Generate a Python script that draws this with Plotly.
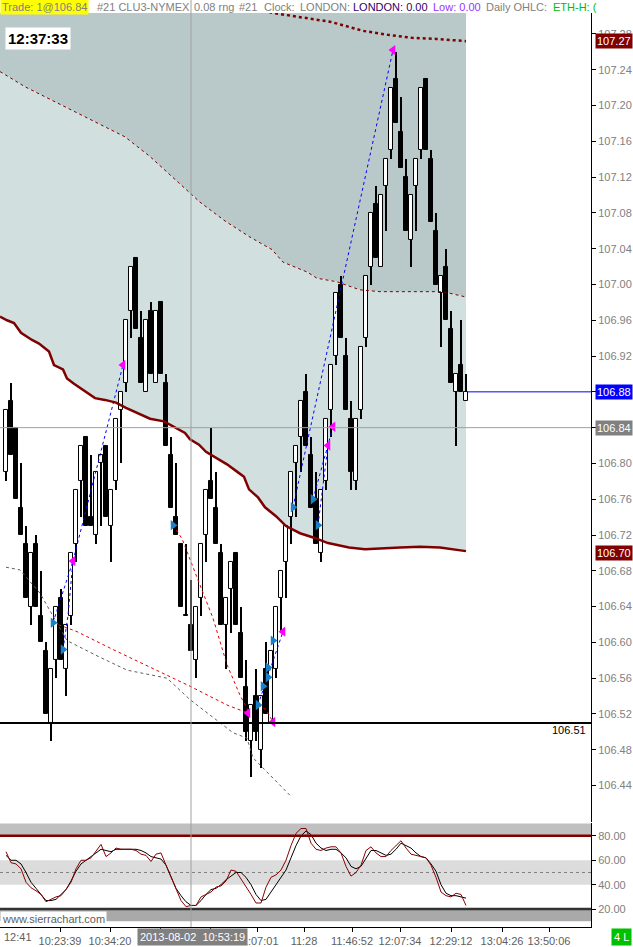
import plotly.graph_objects as go

# ---------------- data ----------------
opens = [106.79,106.87,106.84,106.75,106.71,106.64,106.71,106.63,106.59,106.51,
         106.58,106.65,106.57,106.63,106.71,106.78,106.83,106.74,106.72,106.80,
         106.82,106.73,106.78,106.86,106.89,106.97,107.03,106.94,106.88,106.97,
         106.89,106.98,106.89,106.81,106.74,106.71,106.63,106.62,106.58,106.65,
         106.72,106.78,106.75,106.70,106.62,106.66,106.70,106.61,106.55,106.49,
         106.54,106.48,106.57,106.51,106.57,106.65,106.69,106.74,106.80,106.83,
         106.88,106.81,106.76,106.70,106.78,106.86,106.92,107.00,106.92,106.85,
         106.78,106.86,106.94,107.02,107.09,107.02,107.11,107.15,107.23,107.17,
         107.12,107.05,107.11,107.15,107.23,107.14,107.06,106.99,107.02,106.95,
         106.88,106.91,106.87]
highs = [106.86,106.89,106.84,106.80,106.73,106.70,106.72,106.68,106.60,106.57,
         106.64,106.66,106.62,106.70,106.77,106.82,106.83,106.81,106.79,106.81,
         106.82,106.77,106.85,106.88,106.96,107.02,107.03,106.97,106.96,106.98,
         106.97,106.98,106.90,106.83,106.80,106.71,106.71,106.67,106.64,106.71,
         106.77,106.84,106.79,106.71,106.65,106.69,106.70,106.64,106.58,106.53,
         106.57,106.54,106.60,106.59,106.64,106.68,106.73,106.79,106.82,106.87,
         106.90,106.83,106.79,106.77,106.85,106.91,106.99,107.01,106.94,106.87,
         106.85,106.93,107.01,107.08,107.11,107.10,107.14,107.22,107.26,107.21,
         107.14,107.10,107.14,107.22,107.23,107.15,107.08,107.01,107.04,106.97,
         106.90,106.96,106.90]
lows = [106.78,106.81,106.76,106.72,106.65,106.62,106.64,106.60,106.52,106.49,
        106.56,106.58,106.54,106.62,106.69,106.74,106.73,106.73,106.71,106.73,
        106.74,106.69,106.77,106.80,106.88,106.94,106.95,106.89,106.88,106.90,
        106.89,106.90,106.82,106.75,106.72,106.64,106.63,106.59,106.56,106.63,
        106.69,106.76,106.71,106.62,106.57,106.61,106.62,106.56,106.49,106.45,
        106.49,106.46,106.52,106.51,106.56,106.61,106.65,106.71,106.74,106.79,
        106.82,106.75,106.71,106.69,106.77,106.83,106.91,106.94,106.86,106.77,
        106.77,106.85,106.93,107.00,107.03,107.02,107.06,107.14,107.18,107.13,
        107.06,107.02,107.06,107.14,107.15,107.07,107.00,106.93,106.96,106.89,
        106.82,106.88,106.87]
closes = [106.86,106.81,106.76,106.72,106.65,106.70,106.64,106.60,106.52,106.57,
          106.64,106.58,106.62,106.70,106.77,106.82,106.73,106.73,106.79,106.81,
          106.74,106.77,106.85,106.88,106.96,107.02,106.95,106.89,106.96,106.90,
          106.97,106.90,106.82,106.75,106.72,106.64,106.63,106.59,106.64,106.71,
          106.77,106.76,106.71,106.62,106.65,106.69,106.62,106.56,106.50,106.53,
          106.50,106.54,106.52,106.59,106.64,106.68,106.73,106.79,106.82,106.87,
          106.82,106.75,106.71,106.77,106.85,106.91,106.99,106.94,106.86,106.79,
          106.85,106.93,107.01,107.08,107.03,107.10,107.14,107.22,107.18,107.13,
          107.06,107.10,107.14,107.22,107.15,107.07,107.00,107.01,106.96,106.89,
          106.90,106.88,106.88]

# stochastic %K (dark red) and %D (black)
stoch_k = [67,58,57,53,42,37.5,35,32,26,28,30,31,36,42,53,60,60,62,68,73,
           63,66,70,69,69,69,68,65,64,59,65,66,56,46,37,27,22,23,23,30,
           32,34,38,39,43,52,51,45,38,32,25,25,38,46,48,52,60,72,82,86,
           86,74,69,68,70,71,71,66,55,47,50,56,68,71,66,63,63,68,72,76,
           70,65,64,63,62,56,46,34,31,30,33,32,23]
stoch_d = [64,60,60,57,50,42,37,32,27,27,28,32,36,43,51,57,60,63,66,69,
           68,67,69,69,69,69,69,68,66,63,62,61,56,46,37,31,26,23,23,27,
           32,36,37,40,44,47,50,50,46,40,32,27,28,34,40,45,52,62,72,80,
           84,81,74,70,68,69,69,66,62,55,53,55,62,68,68,66,64,65,69,74,
           72,70,66,63,62,57,51,40,33,31,31,30,29]

# band lines (bar position, price)
band_top_x = [46.8, 53.4, 65.0, 71.4, 76.4, 81.2, 86.0, 92.0]
band_top_y = [107.312, 107.3035, 107.2935, 107.2835, 107.279, 107.2757, 107.2745, 107.272]
band_mid_x = [-1.2, 3.8, 8.8, 13.8, 18.8, 23.8, 28.8, 33.8, 38.8, 43.8, 48.8, 53.2,
              55.4, 60.2, 62.2, 66.2, 70.8, 74.8, 87.4, 92.0]
band_mid_y = [107.238, 107.221, 107.207, 107.193, 107.179, 107.165, 107.143, 107.117,
              107.092, 107.071, 107.053, 107.039, 107.025, 107.014, 107.007, 107.003,
              106.994, 106.992, 106.992, 106.986]
band_low_x = [-1.2, 0.2, 1.6, 3.0, 5.2, 6.6, 8.6, 9.6, 11.4, 12.2, 13.6, 15.6, 17.8,
              19.8, 22.0, 24.0, 26.0, 28.8, 31.6, 33.8, 35.8, 36.8, 38.6, 40.0, 42.2,
              44.2, 46.4, 47.6, 48.6, 50.4, 51.8, 54.0, 56.0, 58.8, 61.6, 64.4, 68.6,
              71.8, 78.8, 82.8, 86.8, 92.0]
band_low_y = [106.964, 106.960, 106.957, 106.946, 106.938, 106.934, 106.925, 106.910,
              106.905, 106.895, 106.889, 106.881, 106.873, 106.871, 106.868, 106.862,
              106.857, 106.850, 106.847, 106.840, 106.834, 106.827, 106.821, 106.813,
              106.806, 106.799, 106.790, 106.785, 106.771, 106.762, 106.751, 106.741,
              106.730, 106.722, 106.717, 106.711, 106.706, 106.704, 106.706, 106.707,
              106.706, 106.702]

# gray dotted line
gray_x = [0.0, 2.8, 6.8, 8.8, 12.2, 18.2, 24.2, 32.2, 36.8, 45.4, 48.2, 49.4, 56.8]
gray_y = [106.684, 106.681, 106.655, 106.635, 106.602, 106.585, 106.569, 106.560,
          106.536, 106.499, 106.493, 106.471, 106.429]
# red dotted lines
red1_x = [9.4, 14.2, 21.4, 28.8, 36.8, 44.2, 48.4]
red1_y = [106.622, 106.612, 106.592, 106.572, 106.551, 106.530, 106.521]
red2_x = [33.4, 35.2, 38.8, 41.4, 44.2, 46.8, 48.4]
red2_y = [106.731, 106.716, 106.664, 106.627, 106.575, 106.541, 106.524]
red3_x = [50.4, 52.0, 53.4]
red3_y = [106.530, 106.525, 106.511]
# blue dotted trade links
blue_links = [
    ([9.4, 13.4], [106.622, 106.691]),
    ([11.4, 12.4, 13.4], [106.592, 106.630, 106.691]),
    ([13.4, 23.4], [106.691, 106.910]),
    ([57.4, 77.4], [106.751, 107.262]),
    ([61.4, 65.4], [106.760, 106.841]),
    ([62.4, 64.4], [106.731, 106.820]),
    ([50.4, 55.4], [106.530, 106.612]),
]
# trade markers
buy_x = [9.4, 11.4, 33.4, 50.4, 51.4, 52.4, 52.4, 53.4, 57.4, 61.4, 62.4]
buy_y = [106.622, 106.592, 106.731, 106.530, 106.551, 106.561, 106.572, 106.602,
         106.751, 106.760, 106.731]
sell_x = [13.4, 23.4, 48.4, 53.4, 55.4, 64.4, 65.4, 77.4]
sell_y = [106.691, 106.910, 106.521, 106.511, 106.612, 106.820, 106.841, 107.262]

price_ticks = [round(106.44 + 0.04 * k, 2) for k in range(22)]
stoch_ticks = [20, 40, 60, 80]
time_tick_pos = [10.8, 20.8, 30.8, 40.8, 50.3, 59.6, 69.2, 78.8, 89.0, 99.2, 108.6]
time_tick_txt = ["10:23:39", "10:34:20", "", "", "11:07:01", "11:28", "11:46:52",
                 "12:07:34", "12:29:12", "13:04:26", "13:50:06"]

# ---------------- layout helpers ----------------
W, H = 633, 947
def px(x):
    return x / W
def py(y):
    return 1 - y / H

FONT = "Liberation Sans, Arial, sans-serif"
X_RANGE = [-1.2, 117]
X_DOM = [0, px(591)]
P_RANGE = [106.3988, 107.3035]
S_RANGE = [5.3, 90.2]
DARK_FILL = "#b9c9c9"
LIGHT_FILL = "#d1dfdf"
DRED = "#800000"

n = len(opens)
idx = list(range(n))

def path_of(xs, ys):
    pts = ["%s,%s" % (x, y) for x, y in zip(xs, ys)]
    return "M " + " L ".join(pts) + " Z"

shapes = []
# band fills as shapes below the candles
dark_x = [band_mid_x[0], band_mid_x[-1]] + band_mid_x[::-1]
dark_y = [P_RANGE[1], P_RANGE[1]] + band_mid_y[::-1]
shapes.append(dict(type="path", xref="x", yref="y", path=path_of(dark_x, dark_y),
                   fillcolor=DARK_FILL, line=dict(width=0), layer="below"))
light_x = band_mid_x + band_low_x[::-1]
light_y = band_mid_y + band_low_y[::-1]
shapes.append(dict(type="path", xref="x", yref="y", path=path_of(light_x, light_y),
                   fillcolor=LIGHT_FILL, line=dict(width=0), layer="below"))

fig = go.Figure()

# candle wicks and bodies (bars, overlaid)
fig.add_trace(go.Bar(x=idx, y=[h - l for h, l in zip(highs, lows)], base=lows,
                     width=0.4, marker=dict(color="black", line=dict(width=0)),
                     hoverinfo="skip"))
base = [min(o, c) for o, c in zip(opens, closes)]
height = [max(abs(c - o), 0.0012) for o, c in zip(opens, closes)]
colors = ["white" if c > o else "black" for o, c in zip(opens, closes)]
fig.add_trace(go.Bar(x=idx, y=height, base=base, width=0.74,
                     marker=dict(color=colors, line=dict(color="black", width=1)),
                     hoverinfo="skip"))

# band lines
fig.add_trace(go.Scatter(x=band_mid_x, y=band_mid_y, mode="lines",
                         line=dict(color=DRED, width=1, dash="dot"), hoverinfo="skip"))
fig.add_trace(go.Scatter(x=band_low_x, y=band_low_y, mode="lines",
                         line=dict(color=DRED, width=2.5), hoverinfo="skip"))
fig.add_trace(go.Scatter(x=band_top_x, y=band_top_y, mode="lines",
                         line=dict(color=DRED, width=2.5, dash="dot"), hoverinfo="skip"))

# other study lines
fig.add_trace(go.Scatter(x=gray_x, y=gray_y, mode="lines",
                         line=dict(color="#606060", width=1, dash="dot"), hoverinfo="skip"))
for xs, ys in [(red1_x, red1_y), (red2_x, red2_y), (red3_x, red3_y)]:
    fig.add_trace(go.Scatter(x=xs, y=ys, mode="lines",
                             line=dict(color="#e00000", width=1, dash="dot"), hoverinfo="skip"))
for xs, ys in blue_links:
    fig.add_trace(go.Scatter(x=xs, y=ys, mode="lines",
                             line=dict(color="#0000ff", width=1, dash="dot"), hoverinfo="skip"))

# trade markers
fig.add_trace(go.Scatter(x=buy_x, y=buy_y, mode="markers",
                         marker=dict(symbol="triangle-right", size=9, color="#1a80c8"),
                         hoverinfo="skip"))
fig.add_trace(go.Scatter(x=sell_x, y=sell_y, mode="markers",
                         marker=dict(symbol="triangle-left", size=9, color="#ff00ff"),
                         hoverinfo="skip"))

# stochastic
fig.add_trace(go.Scatter(x=idx, y=stoch_d, mode="lines", line=dict(color="black", width=1),
                         xaxis="x2", yaxis="y2", hoverinfo="skip"))
fig.add_trace(go.Scatter(x=idx, y=stoch_k, mode="lines", line=dict(color="#8b0000", width=1),
                         xaxis="x2", yaxis="y2", hoverinfo="skip"))

# stochastic bands
for y0, y1, col in [(80, 100, "#c0c0c0"), (40, 60, "#dcdcdc"), (10, 20, "#a9a9a9")]:
    shapes.append(dict(type="rect", xref="paper", yref="y2", x0=0, x1=X_DOM[1],
                       y0=y0, y1=y1, fillcolor=col, line=dict(width=0), layer="below"))
shapes.append(dict(type="line", xref="paper", yref="y2", x0=0, x1=X_DOM[1], y0=50, y1=50,
                   line=dict(color="#808080", width=1, dash="dot"), layer="below"))
shapes.append(dict(type="line", xref="paper", yref="y2", x0=0, x1=X_DOM[1], y0=80, y1=80,
                   line=dict(color=DRED, width=2.5)))
shapes.append(dict(type="line", xref="paper", yref="y2", x0=0, x1=X_DOM[1], y0=20, y1=20,
                   line=dict(color="#333333", width=2.5)))
# price lines
shapes.append(dict(type="line", xref="paper", yref="y", x0=0, x1=X_DOM[1], y0=106.84, y1=106.84,
                   line=dict(color="#a0a0a0", width=1)))
shapes.append(dict(type="line", xref="paper", yref="y", x0=0, x1=X_DOM[1], y0=106.51, y1=106.51,
                   line=dict(color="black", width=2)))
shapes.append(dict(type="line", xref="x", yref="y", x0=92.3, x1=X_RANGE[1], y0=106.88, y1=106.88,
                   line=dict(color="#0000ff", width=1)))
# cursor
shapes.append(dict(type="line", xref="x", yref="paper", x0=37, x1=37, y0=py(930), y1=1,
                   line=dict(color="#a0a0a0", width=1)))

ann = []
def text(x, y, s, color="#808080", size=11, bg=None, xanchor="left", yref="paper",
         bold=False, pad=1):
    d = dict(x=px(x), y=(py(y) if yref == "paper" else y), xref="paper", yref=yref,
             text=("<b>%s</b>" % s if bold else s), showarrow=False, xanchor=xanchor,
             yanchor="middle", font=dict(family=FONT, size=size, color=color),
             borderpad=pad)
    if bg:
        d["bgcolor"] = bg
    ann.append(d)

# header
text(0, 7, "Trade: 1@106.84", bg="#ffff00", pad=1)
text(95, 7, "#21 CLU3-NYMEX")
text(192, 7, "0.08 rng")
text(237, 7, "#21")
text(262, 7, "Clock:")
text(298, 7, "LONDON:")
text(351, 7, "LONDON: 0.00", color="#330066")
text(431, 7, "Low: 0.00", color="#9933ff")
text(484, 7, "Daily OHLC:")
text(551, 7, "ETH-H: (", color="#00c000")
# clock
text(5, 39, "12:37:33", color="black", size=15, bg="white", bold=True, pad=2)
# axis value labels
text(595, 107.272, "107.27", color="white", bg=DRED, yref="y")
text(595, 106.88, "106.88", color="white", bg="#0000ff", yref="y")
text(595, 106.84, "106.84", color="white", bg="#808080", yref="y")
text(595, 106.70, "106.70", color="white", bg=DRED, yref="y")
text(588, 732, "106.51", color="black", xanchor="right")
# bottom
text(0, 922, "www.sierrachart.com", color="#606060", bg="white", pad=1)
text(2, 940, "12:41", color="#606060")
text(192, 939.5, "2013-08-02&nbsp;&nbsp;10:53:19", color="white", bg="#808080",
     xanchor="center", pad=2)
text(632, 940, "4 L", color="white", bg="#00c000", xanchor="right", pad=2)

fig.update_layout(
    width=W, height=H, margin=dict(l=0, r=0, t=0, b=0),
    paper_bgcolor="white", plot_bgcolor="white", showlegend=False,
    font=dict(family=FONT, size=11, color="#808080"),
    shapes=shapes, annotations=ann, barmode="overlay", bargap=0,
    xaxis=dict(domain=X_DOM, range=X_RANGE, anchor="y", showticklabels=False,
               showgrid=False, zeroline=False, ticks=""),
    yaxis=dict(domain=[py(825), py(13)], range=P_RANGE, anchor="x", side="right",
               tickvals=price_ticks, ticktext=["%.2f" % v for v in price_ticks],
               ticks="outside", ticklen=4, tickcolor="black", showline=True,
               linecolor="black", linewidth=1, showgrid=False, zeroline=False,
               tickfont=dict(family=FONT, size=11, color="#808080")),
    xaxis2=dict(domain=X_DOM, range=X_RANGE, anchor="y2", showgrid=False, zeroline=False,
                tickvals=time_tick_pos, ticktext=time_tick_txt, ticks="outside",
                ticklen=4, tickcolor="black", showline=True, linecolor="black",
                linewidth=1, tickangle=0,
                tickfont=dict(family=FONT, size=11, color="#606060")),
    yaxis2=dict(domain=[py(930), py(826)], range=S_RANGE, anchor="x2", side="right",
                tickvals=stoch_ticks, ticktext=["%.2f" % v for v in stoch_ticks],
                ticks="outside", ticklen=4, tickcolor="black", showline=True,
                linecolor="black", linewidth=1, showgrid=False, zeroline=False,
                tickfont=dict(family=FONT, size=11, color="#808080")),
)

fig.write_html("out.html", config={"displayModeBar": False},
               post_script="document.body.style.margin='0px';document.body.style.overflow='hidden';")
